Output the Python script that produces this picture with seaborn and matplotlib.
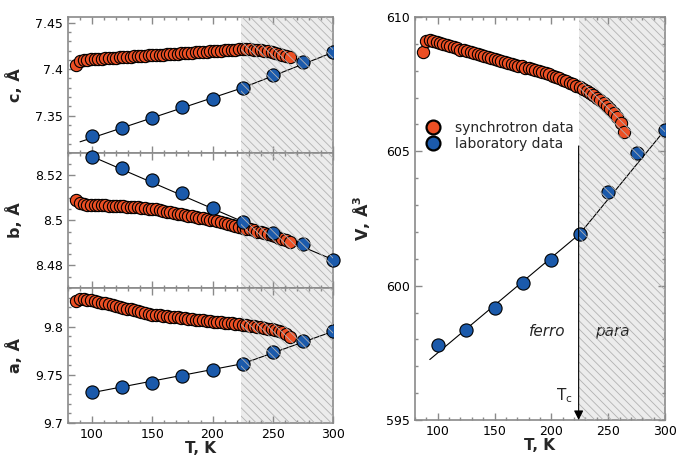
import matplotlib
matplotlib.use("Agg")
import matplotlib.pyplot as plt
from matplotlib.ticker import MultipleLocator
from matplotlib.lines import Line2D
import numpy as np
import pandas as pd
import seaborn as sns

# ------------------------------ data
T_SYN = [87, 90, 93, 96, 99, 102, 105, 108, 111, 114, 117, 120, 123, 126, 129,
         132, 135, 138, 141, 144, 147, 150, 153, 156, 159, 162, 165, 168, 171,
         174, 177, 180, 183, 186, 189, 192, 195, 198, 201, 204, 207, 210, 213,
         216, 219, 222, 225, 228, 231, 234, 237, 240, 243, 246, 249, 252, 255,
         258, 261, 264]

C_SYN = [7.4040, 7.4090,
         7.4100, 7.4102, 7.4105, 7.4108, 7.4110, 7.4113, 7.4115, 7.4118, 7.4121,
         7.4123, 7.4126, 7.4128, 7.4131, 7.4134, 7.4136, 7.4139, 7.4141, 7.4144,
         7.4147, 7.4149, 7.4152, 7.4154, 7.4157, 7.4160, 7.4162, 7.4165, 7.4167,
         7.4170, 7.4173, 7.4175, 7.4178, 7.4180, 7.4183, 7.4186, 7.4188, 7.4191,
         7.4193, 7.4196, 7.4199, 7.4201, 7.4204, 7.4206, 7.4209, 7.4212,
         7.4215,
         7.4215, 7.4213, 7.4210, 7.4207, 7.4203, 7.4198, 7.4190, 7.4183, 7.4175,
         7.4165, 7.4155, 7.4145, 7.4130]

B_SYN = [8.5092, 8.5078, 8.5072, 8.5070, 8.5070, 8.5069, 8.5068, 8.5068, 8.5067,
         8.5066, 8.5065, 8.5065, 8.5064, 8.5063, 8.5062, 8.5061, 8.5060, 8.5058,
         8.5057, 8.5055, 8.5053, 8.5051, 8.5049, 8.5046, 8.5043, 8.5040, 8.5037,
         8.5034, 8.5031, 8.5028, 8.5025, 8.5022, 8.5019, 8.5016, 8.5013, 8.5010,
         8.5007, 8.5003, 8.5000, 8.4996, 8.4992, 8.4988, 8.4984, 8.4980, 8.4976,
         8.4972, 8.4968, 8.4964, 8.4960, 8.4956, 8.4951, 8.4947, 8.4943, 8.4938,
         8.4934, 8.4929, 8.4924, 8.4918, 8.4912, 8.4903]

A_SYN = [9.8268, 9.8290, 9.8286, 9.8280, 9.8273, 9.8265, 9.8257, 9.8249, 9.8240,
         9.8231, 9.8222, 9.8213,
         9.8204, 9.8195, 9.8186, 9.8178, 9.8169, 9.8160, 9.8151, 9.8142, 9.8134,
         9.8125,
         9.8121, 9.8116, 9.8112, 9.8108, 9.8103, 9.8099, 9.8095, 9.8090, 9.8086,
         9.8082, 9.8078, 9.8073, 9.8069, 9.8065, 9.8060, 9.8056, 9.8052,
         9.8048, 9.8044, 9.8040, 9.8036, 9.8032, 9.8028, 9.8024, 9.8020,
         9.8015, 9.8010, 9.8004, 9.7998, 9.7992, 9.7985, 9.7978, 9.7971, 9.7963,
         9.7954, 9.7943, 9.7928, 9.7895]

V_SYN = [608.70, 609.12, 609.15, 609.12, 609.07, 609.03, 608.99, 608.95, 608.91,
         608.87, 608.83, 608.79, 608.76, 608.72, 608.68, 608.65, 608.61, 608.58,
         608.54, 608.51, 608.47, 608.44, 608.40, 608.37, 608.33, 608.30, 608.26,
         608.23, 608.19, 608.16, 608.12, 608.09, 608.05, 608.02, 607.98, 607.94,
         607.90, 607.86, 607.82, 607.77, 607.72, 607.67, 607.62, 607.56, 607.50,
         607.44, 607.38, 607.31, 607.24, 607.16, 607.08, 606.99, 606.90, 606.80,
         606.69, 606.57, 606.44, 606.28, 606.05, 605.72]

T_LAB = [100, 125, 150, 175, 200, 225, 250, 275, 300]
C_LAB = [7.328, 7.337, 7.348, 7.359, 7.368, 7.380, 7.394, 7.408, 7.418]
B_LAB = [8.5284, 8.5232, 8.5180, 8.5120, 8.5055, 8.4995, 8.4945, 8.4896, 8.4826]
A_LAB = [9.7326, 9.7370, 9.7413, 9.7490, 9.7550, 9.7615, 9.7740, 9.7854, 9.7950]
V_LAB = [597.81, 598.34, 599.17, 600.11, 600.97, 601.93, 603.49, 604.94, 605.80]

# linear fits below / above Tc
T_FIT_C = [90, 225, 300]
C_FIT = [7.322, 7.380, 7.418]
T_FIT_B = [95, 225, 300]
B_FIT = [8.5296, 8.4995, 8.4826]
T_FIT_A = [98, 225, 300]
A_FIT = [9.7310, 9.7615, 9.7950]
T_FIT_V = [93, 225, 300]
V_FIT = [597.25, 601.93, 605.80]

TC = 224

# ------------------------------ style
RED = "#ec4f24"
BLUE = "#1b5aab"
SPINE = "#8a8a8a"

sns.set_style("ticks")
plt.rcParams["font.family"] = ["DejaVu Sans"]
plt.rcParams["hatch.linewidth"] = 0.6
plt.rcParams["axes.edgecolor"] = SPINE
plt.rcParams["axes.linewidth"] = 1.2

DPI = 100
FIGSIZE = (677 / DPI, 462 / DPI)


def style_axis(ax, ymaj, ymin, right_ticks=False):
    ax.set_xlim(80, 300)
    ax.xaxis.set_major_locator(MultipleLocator(50))
    ax.xaxis.set_minor_locator(MultipleLocator(10))
    ax.yaxis.set_major_locator(MultipleLocator(ymaj))
    ax.yaxis.set_minor_locator(MultipleLocator(ymin))
    ax.tick_params(which="both", direction="in", top=True, right=right_ticks,
                   color=SPINE, width=1.0, labelsize=9, labelcolor="black")
    ax.tick_params(which="major", length=5)
    ax.tick_params(which="minor", length=2.5)
    for s in ax.spines.values():
        s.set_visible(True)
        s.set_color(SPINE)
    # para region
    ax.axvspan(TC, 300, facecolor="#ececec", edgecolor="none", zorder=0)
    ax.axvspan(TC, 300, facecolor="none", edgecolor="#b2b2b2", hatch="\\\\\\\\",
               linewidth=0, zorder=6)


def draw_panel(ax, y_syn, t_fit, y_fit, y_lab, clip=True):
    sns.lineplot(x=t_fit, y=y_fit, ax=ax, color="black", lw=0.8, zorder=2)
    sns.scatterplot(x=T_SYN, y=y_syn, ax=ax, color=RED, edgecolor="black",
                    linewidth=0.8, s=78, zorder=3, label="synchrotron data")
    sns.scatterplot(x=T_LAB, y=y_lab, ax=ax, color=BLUE, edgecolor="black",
                    linewidth=0.8, s=90, zorder=4, label="laboratory data",
                    clip_on=clip)
    ax.get_legend().remove()


fig = plt.figure(figsize=FIGSIZE, dpi=DPI)
ax_c = fig.add_axes([68 / 677, 1 - 153 / 462, 265 / 677, 136 / 462])
ax_b = fig.add_axes([68 / 677, 1 - 288 / 462, 265 / 677, 135 / 462])
ax_a = fig.add_axes([68 / 677, 1 - 423 / 462, 265 / 677, 135 / 462])
ax_v = fig.add_axes([415 / 677, 1 - 420 / 462, 250 / 677, 403 / 462])

draw_panel(ax_c, C_SYN, T_FIT_C, C_FIT, C_LAB)
style_axis(ax_c, 0.05, 0.01)
ax_c.set_ylim(7.31, 7.456)

draw_panel(ax_b, B_SYN, T_FIT_B, B_FIT, B_LAB, clip=False)
style_axis(ax_b, 0.02, 0.005)
ax_b.set_ylim(8.47, 8.53)

draw_panel(ax_a, A_SYN, T_FIT_A, A_FIT, A_LAB)
style_axis(ax_a, 0.05, 0.01)
ax_a.set_ylim(9.70, 9.84)

draw_panel(ax_v, V_SYN, T_FIT_V, V_FIT, V_LAB)
style_axis(ax_v, 5, 1, right_ticks=True)
ax_v.set_ylim(595, 610)

ax_c.set_yticks([7.35, 7.4, 7.45])
ax_c.set_yticklabels(["7.35", "7.4", "7.45"])
ax_b.set_yticks([8.48, 8.5, 8.52])
ax_b.set_yticklabels(["8.48", "8.5", "8.52"])
ax_a.set_yticks([9.7, 9.75, 9.8])
ax_a.set_yticklabels(["9.7", "9.75", "9.8"])

for ax in (ax_c, ax_b):
    ax.tick_params(labelbottom=False)
    ax.set_xlabel("")

label_kw = dict(fontsize=11.5, fontweight="bold")
ax_c.set_ylabel("c, Å", **label_kw)
ax_b.set_ylabel("b, Å", **label_kw)
ax_a.set_ylabel("a, Å", **label_kw)
ax_v.set_ylabel("V, Å$^\\mathregular{3}$", **label_kw)
for ax in (ax_c, ax_b, ax_a):
    ax.yaxis.set_label_coords(-0.17, 0.5)
ax_v.yaxis.set_label_coords(-0.17, 0.5)

ax_a.set_xlabel("T, K", fontsize=11, fontweight="bold", labelpad=0)
ax_v.set_xlabel("T, K", fontsize=11, fontweight="bold", labelpad=0)

# legend
handles = [
    Line2D([], [], ls="none", marker="o", markersize=10, markerfacecolor=RED,
           markeredgecolor="black", markeredgewidth=1.6),
    Line2D([], [], ls="none", marker="o", markersize=10, markerfacecolor=BLUE,
           markeredgecolor="black", markeredgewidth=1.6),
]
ax_v.legend(handles, ["synchrotron data", "laboratory data"], loc="center left",
            bbox_to_anchor=(0.045, 0.705), frameon=False, fontsize=10,
            handlelength=1.0, handletextpad=1.1, labelspacing=0.15,
            borderpad=0, borderaxespad=0)

# Tc marker and phase labels
ax_v.annotate("", xy=(TC, 595), xytext=(TC, 605.2),
              arrowprops=dict(arrowstyle="-|>", color="black", lw=0.8,
                              mutation_scale=14, shrinkA=0, shrinkB=0),
              zorder=7)
ax_v.text(TC - 13, 595.9, "T$_\\mathregular{c}$", fontsize=11, ha="center",
          va="center")
ax_v.text(196, 598.3, "ferro", fontsize=11, style="italic", ha="center",
          va="center")
ax_v.text(254, 598.3, "para", fontsize=11, style="italic", ha="center",
          va="center")

plt.savefig("out.png", dpi=DPI)
plt.close()
